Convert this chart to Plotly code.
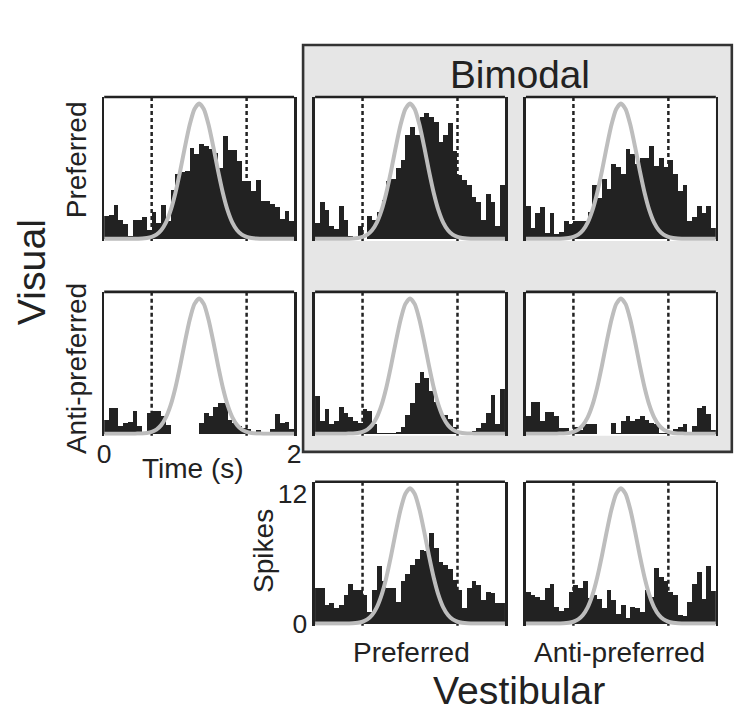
import plotly.graph_objects as go

# page is 750x726; the default body margin (8px) surrounds the figure
PAGE_MARGIN = 8
W, H = 750 - 2 * PAGE_MARGIN, 726 - 2 * PAGE_MARGIN
# measured mapping of the photographed page: shown = S * page + O
SX, OX = 0.9815, 6.9
SY, OY = 0.978, 3.1

# ---------------- data ----------------
bin_width = 0.05
bin_centers = [round(0.025 + bin_width * i, 3) for i in range(40)]

# stimulus velocity profile (gray curve), read at 0.05 s steps
curve_t = [round(0.05 * i, 2) for i in range(41)]
curve_vals = [0, 0, 0, 0, 0, 0, 0, 0.01, 0.02, 0.07, 0.17, 0.38, 0.79, 1.50, 2.63,
              4.24, 6.26, 8.47, 10.51, 11.97, 12.5, 11.97, 10.51, 8.47, 6.26, 4.24,
              2.63, 1.50, 0.79, 0.38, 0.17, 0.07, 0.02, 0.01, 0, 0, 0, 0, 0, 0, 0]

stim_markers = [0.5, 1.5]

# spike histograms (spikes per bin)
vis_pref = [2.1, 2.2, 3.1, 1.7, 1.4, 0.3, 1.7, 1.7, 2.0, 0.8, 2.5, 1.5, 3.1, 1.6, 4.5, 6.0,
            6.2, 6.3, 8.4, 7.8, 8.8, 8.6, 8.3, 7.9, 6.5, 9.5, 8.2, 8.2, 7.2, 5.3, 5.3, 4.4,
            5.4, 3.5, 3.5, 3.2, 2.9, 1.8, 2.6, 1.6]
bi_pp = [1.5, 3.4, 2.7, 1.2, 0.9, 3.0, 1.7, 0.3, 0.1, 1.2, 0.0, 2.1, 1.7, 2.5, 3.6, 5.3,
         5.5, 6.5, 7.3, 9.6, 10.3, 9.6, 11.3, 11.6, 11.3, 10.8, 8.9, 9.6, 10.7, 8.1, 5.9,
         5.4, 5.0, 3.9, 3.4, 1.7, 4.1, 3.4, 1.2, 5.0]
bi_pa = [3.0, 1.0, 2.4, 2.9, 0.5, 2.4, 0.4, 0.6, 1.6, 1.4, 1.6, 1.6, 1.6, 2.5, 5.0, 3.8,
         5.5, 4.6, 6.9, 6.6, 6.0, 8.3, 7.8, 6.9, 7.5, 7.5, 8.6, 6.7, 7.5, 6.6, 7.3, 6.0,
         4.4, 5.0, 1.6, 2.0, 3.0, 2.4, 3.0, 1.0]
vis_anti = [1.3, 2.4, 2.4, 0.7, 1.0, 1.1, 2.1, 0.7, 0.2, 1.9, 2.1, 2.1, 1.6, 0.8, 0.0, 0.0,
            0.0, 0.0, 0.0, 0.0, 1.0, 1.9, 1.6, 2.5, 2.8, 2.8, 1.3, 1.0, 0.7, 0.5, 0.4, 0.1,
            0.3, 0.0, 0.1, 0.4, 1.8, 1.0, 1.1, 0.4]
bi_ap = [3.5, 1.2, 2.3, 0.9, 1.2, 2.5, 1.9, 1.5, 1.2, 1.0, 2.3, 2.1, 0.9, 0.1, 0.1, 0.1,
         0.1, 0.2, 0.6, 1.7, 2.8, 4.7, 5.7, 5.1, 3.9, 2.9, 2.0, 1.7, 1.4, 0.6, 0.1, 0.0,
         0.0, 0.25, 0.5, 1.0, 1.9, 3.6, 0.9, 4.1]
bi_aa = [1.6, 2.9, 2.9, 1.2, 2.0, 2.0, 1.6, 0.5, 0.5, 0.1, 0.6, 0.35, 0.9, 0.9, 0.9, 0.0,
         0.0, 0.0, 1.0, 0.1, 1.2, 1.6, 1.2, 1.4, 1.6, 1.3, 1.0, 0.9, 0.1, 0.1, 0.1, 0.4,
         0.6, 0.9, 0.0, 0.7, 2.4, 2.6, 1.8, 0.3]
vest_pref = [3.3, 3.3, 1.7, 1.9, 1.4, 1.7, 2.6, 3.7, 3.1, 3.1, 2.6, 1.1, 3.1, 5.3, 3.9, 3.3,
             3.3, 2.0, 3.9, 4.6, 5.4, 6.0, 6.8, 6.7, 8.4, 7.0, 5.7, 5.4, 5.0, 4.0, 3.1, 1.4,
             3.3, 3.9, 3.6, 2.2, 2.9, 2.8, 1.9, 1.9]
vest_anti = [2.9, 2.6, 2.5, 2.2, 3.3, 3.7, 1.5, 1.2, 1.4, 2.9, 3.6, 3.3, 3.9, 2.4, 2.6, 2.3,
             1.4, 3.1, 2.2, 0.9, 1.7, 0.5, 1.5, 1.4, 1.1, 3.1, 2.5, 5.1, 4.3, 3.9, 2.9, 2.6,
             0.8, 0.7, 2.0, 3.7, 4.8, 2.3, 5.3, 3.0]

x_ticks = [0, 2]
y_ticks = [0, 12]

# ---------------- layout helpers (target pixel -> paper fraction) ----------------
def px_x(t):
    page = (t - OX) / SX
    return (page - PAGE_MARGIN) / W


def px_y(t):
    page = (t - OY) / SY
    return 1 - (page - PAGE_MARGIN) / H


def fs(size):
    return size / SX


col_px = [(104, 294), (315, 505), (526, 716)]
row_px = [(97, 241), (292, 436), (482, 626)]

# (data, row, col)
panels = [
    (vis_pref, 0, 0), (bi_pp, 0, 1), (bi_pa, 0, 2),
    (vis_anti, 1, 0), (bi_ap, 1, 1), (bi_aa, 1, 2),
    (vest_pref, 2, 1), (vest_anti, 2, 2),
]

FONT = "Liberation Sans, Arial, Helvetica, sans-serif"
DARK = "#222222"
GRAY = "#bdbdbd"

fig = go.Figure()
shapes = []
layout_axes = {}

# Bimodal gray box
shapes.append(dict(type="rect", xref="paper", yref="paper",
                   x0=px_x(303), x1=px_x(732), y0=px_y(452), y1=px_y(45),
                   fillcolor="#e6e6e6", line=dict(color="#333333", width=2.6),
                   layer="below"))

for k, (vals, r, c) in enumerate(panels, start=1):
    xa = "x" if k == 1 else f"x{k}"
    ya = "y" if k == 1 else f"y{k}"
    xname = "xaxis" if k == 1 else f"xaxis{k}"
    yname = "yaxis" if k == 1 else f"yaxis{k}"

    # white panel background (drawn above the gray box)
    shapes.append(dict(type="rect", xref=f"{xa} domain", yref=f"{ya} domain",
                       x0=0, x1=1, y0=0, y1=1, fillcolor="white",
                       line=dict(width=0), layer="below"))
    # dashed stimulus markers
    for m in stim_markers:
        shapes.append(dict(type="line", xref=xa, yref=f"{ya} domain",
                           x0=m, x1=m, y0=0, y1=1,
                           line=dict(color=DARK, width=2.5, dash="4px,3px"),
                           layer="below"))
    # top frame line
    shapes.append(dict(type="line", xref=f"{xa} domain", yref=f"{ya} domain",
                       x0=0, x1=1, y0=1, y1=1,
                       line=dict(color=DARK, width=2.6)))

    fig.add_trace(go.Bar(x=bin_centers, y=vals, width=bin_width,
                         marker=dict(color=DARK, line=dict(width=0)),
                         xaxis=xa, yaxis=ya, showlegend=False, hoverinfo="skip"))
    fig.add_trace(go.Scatter(x=curve_t, y=curve_vals, mode="lines",
                             line=dict(color=GRAY, width=4, shape="spline", smoothing=0.6),
                             xaxis=xa, yaxis=ya, showlegend=False, hoverinfo="skip"))

    show_x = (r == 1 and c == 0)
    show_y = (r == 2 and c == 1)
    layout_axes[xname] = dict(
        domain=[px_x(col_px[c][0]), px_x(col_px[c][1])],
        range=[0, 2], anchor=ya, showgrid=False, zeroline=False,
        showline=False, ticks="",
        showticklabels=show_x, tickvals=x_ticks,
        ticktext=[str(v) for v in x_ticks],
        tickfont=dict(size=fs(26), color=DARK, family=FONT),
    )
    layout_axes[yname] = dict(
        domain=[px_y(row_px[r][1]), px_y(row_px[r][0])],
        range=[-0.2, 13.1], anchor=xa, showgrid=False, zeroline=False,
        showline=True, mirror=True, linecolor=DARK, linewidth=2.6, ticks="",
        showticklabels=show_y, tickvals=y_ticks,
        ticktext=[str(v) for v in y_ticks],
        tickfont=dict(size=fs(26), color=DARK, family=FONT),
    )


def ann(text, x, y, size, angle=0):
    return dict(text=text, x=px_x(x), y=px_y(y), xref="paper", yref="paper",
                showarrow=False, textangle=angle, xanchor="center", yanchor="middle",
                font=dict(size=fs(size), color=DARK, family=FONT))


annotations = [
    ann("Bimodal", 520, 74, 38),
    ann("Visual", 31, 272, 38.5, -90),
    ann("Preferred", 77, 160, 27.5, -90),
    ann("Anti-preferred", 77, 369, 27.5, -90),
    ann("Time (s)", 193, 469, 27.5),
    ann("Spikes", 264, 551, 27.5, -90),
    ann("Preferred", 411, 653, 27.5),
    ann("Anti-preferred", 620, 653, 27.5),
    ann("Vestibular", 519, 690, 38.5),
]

fig.update_layout(
    width=W, height=H,
    margin=dict(l=0, r=0, t=0, b=0),
    paper_bgcolor="white", plot_bgcolor="white",
    bargap=0, barmode="overlay",
    shapes=shapes, annotations=annotations,
    font=dict(family=FONT, color=DARK),
    **layout_axes,
)

fig.write_html("out.html", config={"displayModeBar": False, "staticPlot": True})
